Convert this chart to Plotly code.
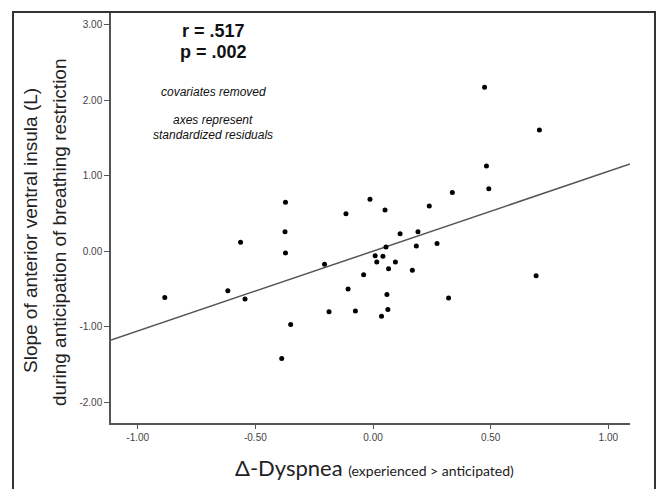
import plotly.graph_objects as go
import numpy as np

# Data (standardized residuals)
dyspnea_delta = [-0.885, -0.617, -0.544, -0.563, -0.372, -0.374, -0.372, -0.350, -0.388,
                 -0.206, -0.187, -0.115, -0.106, -0.075, -0.040, -0.013, 0.051, 0.009,
                 0.042, 0.016, 0.055, 0.066, 0.095, 0.059, 0.063, 0.036, 0.115, 0.167,
                 0.184, 0.191, 0.239, 0.272, 0.337, 0.321, 0.482, 0.492, 0.693, 0.474, 0.707]
insula_slope = [-0.61, -0.52, -0.63, 0.12, 0.65, 0.26, -0.02, -0.97, -1.42,
                -0.17, -0.80, 0.50, -0.50, -0.79, -0.31, 0.69, 0.547, -0.057,
                -0.065, -0.14, 0.058, -0.23, -0.14, -0.57, -0.77, -0.86, 0.235, -0.25,
                0.07, 0.26, 0.60, 0.105, 0.781, -0.617, 1.132, 0.831, -0.322, 2.175, 1.608]

fit_slope = 1.057
fit_intercept = 0.003

x_tickvals = [-1.0, -0.5, 0.0, 0.5, 1.0]
x_ticktext = ["-1.00", "-0.50", "0.00", "0.50", "1.00"]
y_tickvals = [-2, -1, 0, 1, 2, 3]
y_ticktext = ["-2.00", "-1.00", "0.00", "1.00", "2.00", "3.00"]

x_range = [-1.1135, 1.092]
y_range = [-2.274, 3.172]

fig = go.Figure()

line_x = np.array(x_range)
line_y = fit_intercept + fit_slope * line_x
fig.add_trace(go.Scatter(x=line_x, y=line_y, mode="lines",
                         line=dict(color="#555555", width=1.5), hoverinfo="skip"))
fig.add_trace(go.Scatter(x=dyspnea_delta, y=insula_slope, mode="markers",
                         marker=dict(color="black", size=5)))

W, H = 659, 489
L, R, T, B = 111, 29, 12, 66
pw, ph = W - L - R, H - T - B

def px(xp):
    return (xp - L) / pw

def py(yp):
    return (H - B - yp) / ph

fig.update_layout(
    width=W, height=H,
    margin=dict(l=L, r=R, t=T, b=B),
    paper_bgcolor="white", plot_bgcolor="white",
    showlegend=False,
    font=dict(family="Liberation Sans, Arial, sans-serif", color="#333333"),
    xaxis=dict(range=x_range, tickvals=x_tickvals, ticktext=x_ticktext,
               showgrid=False, zeroline=False, showline=True, linecolor="#555555",
               linewidth=1.5, ticks="outside", ticklen=4, tickcolor="#555555",
               tickfont=dict(size=10, color="#444444")),
    yaxis=dict(range=y_range, tickvals=y_tickvals, ticktext=y_ticktext,
               showgrid=False, zeroline=False, showline=True, linecolor="#555555",
               linewidth=1.5, ticks="outside", ticklen=5, tickcolor="#555555",
               tickfont=dict(size=10, color="#444444")),
)

# outer frame
fig.add_shape(type="rect", xref="paper", yref="paper",
              x0=px(13), x1=px(655), y0=py(500), y1=py(12),
              line=dict(color="#333333", width=2), fillcolor="rgba(0,0,0,0)")

ann = [
    dict(text="<b>r = .517</b>", x=px(213), y=py(31), size=18),
    dict(text="<b>p = .002</b>", x=px(213), y=py(52), size=18),
    dict(text="<i>covariates removed</i>", x=px(213), y=py(92), size=12),
    dict(text="<i>axes represent</i>", x=px(213), y=py(120), size=12),
    dict(text="<i>standardized residuals</i>", x=px(213), y=py(135), size=12),
]
for a in ann:
    fig.add_annotation(text=a["text"], x=a["x"], y=a["y"], xref="paper", yref="paper",
                       showarrow=False, xanchor="center", yanchor="middle",
                       font=dict(size=a["size"], color="#111111",
                                 family="Liberation Sans, Arial, sans-serif"))

fig.add_annotation(text="Slope of anterior ventral insula (L)", x=px(30), y=py(231),
                   xref="paper", yref="paper", showarrow=False, textangle=-90,
                   xanchor="center", yanchor="middle",
                   font=dict(size=19, color="#222222", family="Liberation Sans, Arial, sans-serif"))
fig.add_annotation(text="during anticipation of breathing restriction", x=px(59), y=py(233),
                   xref="paper", yref="paper", showarrow=False, textangle=-90,
                   xanchor="center", yanchor="middle",
                   font=dict(size=19, color="#222222", family="Liberation Sans, Arial, sans-serif"))
fig.add_annotation(text="Δ-Dyspnea <span style='font-size:14px'>(experienced &gt; anticipated)</span>",
                   x=px(374), y=py(467), xref="paper", yref="paper", showarrow=False,
                   xanchor="center", yanchor="middle",
                   font=dict(size=22, color="#222222", family="Lato, Open Sans, sans-serif"))

fig.write_html("out.html", config={"displayModeBar": False},
               post_script="document.body.style.margin='0';document.body.style.padding='0';")
